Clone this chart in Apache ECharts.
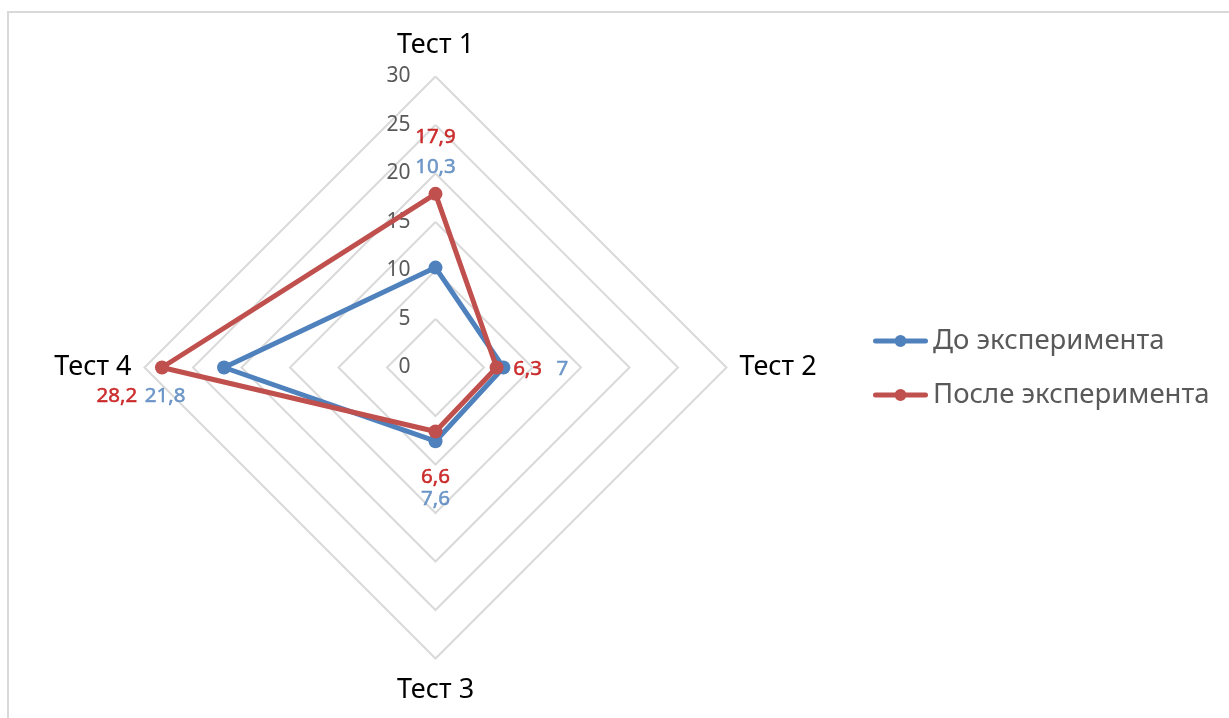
<!DOCTYPE html>
<html>
<head>
<meta charset="utf-8">
<script src="https://cdn.jsdelivr.net/npm/echarts@6/dist/echarts.min.js"></script>
<style>
  html, body { margin: 0; padding: 0; width: 1229px; height: 718px; overflow: hidden; background: #ffffff; }
  #frame { position: absolute; left: 7px; top: 11px; width: 2000px; height: 2000px;
           border: 2px solid #d9d9d9; box-sizing: border-box; }
  #chart { position: absolute; left: 0; top: 0; width: 1229px; height: 718px; }
</style>
</head>
<body>
<div id="frame"></div>
<div id="chart"></div>
<script>
// Radar chart data: four tests, before and after the experiment
const categories = ['Тест 1', 'Тест 2', 'Тест 3', 'Тест 4'];
const seriesNames = ['До эксперимента', 'После эксперимента'];
const beforeValues = [10.3, 7, 7.6, 21.8];
const afterValues = [17.9, 6.3, 6.6, 28.2];
const axisMin = 0;
const axisMax = 30;
const axisStep = 5;

const FONT = '"Noto Sans", "DejaVu Sans", sans-serif';
const BLUE = '#4f81bd';
const RED = '#c0504d';
const BLUE_LABEL = '#4f81bd';
const RED_LABEL = '#c00000';

const CENTER = [435.5, 367.5];
const RADIUS = 291;

// Pixel offsets of each value label from its marker
const beforeLabelOffsets = [[0, -100], [59, 2], [0, 58], [-59, 29]];
const afterLabelOffsets = [[0, -57], [31, 2], [0, 46], [-45, 29]];

// ECharts places radar indicators counter-clockwise; the tests run clockwise
const order = [0, 3, 2, 1];
const indicators = order.map(function (i) {
  const ind = { name: categories[i], min: axisMin, max: axisMax };
  if (i === 0) ind.axisLabel = { show: true };
  return ind;
});
const reorder = function (arr) { return order.map(function (i) { return arr[i]; }); };

const fmt = function (v) { return String(v).replace('.', ','); };

// Value labels sit on a hidden polar system that overlaps the radar exactly
function labelSeries(values, offsets, color, name) {
  return {
    type: 'scatter',
    name: name + ' labels',
    coordinateSystem: 'polar',
    symbolSize: 0,
    silent: true,
    z: 5,
    data: values.map(function (v, i) {
      return {
        value: [v, i * 90],
        label: {
          show: true,
          position: 'inside',
          offset: offsets[i],
          formatter: fmt(v),
          color: color,
          textBorderWidth: 0.5,
          textBorderColor: color,
          fontFamily: FONT,
          fontSize: 20.5
        }
      };
    })
  };
}

const legendIcon = 'path://M2.5,3.5 L52.5,3.5 A2.5,2.5 0 0 1 52.5,8.5 L2.5,8.5 A2.5,2.5 0 0 1 2.5,3.5 Z ' +
                   'M33.5,6 A6,6 0 0 1 21.5,6 A6,6 0 0 1 33.5,6 Z';

const chart = echarts.init(document.getElementById('chart'), null, { renderer: 'canvas' });
chart.setOption({
  animation: false,
  backgroundColor: 'transparent',
  textStyle: { fontFamily: FONT },
  legend: {
    orient: 'vertical',
    left: 873,
    top: 326,
    padding: 0,
    itemWidth: 55,
    itemHeight: 12,
    itemGap: 24,
    icon: legendIcon,
    data: seriesNames,
    textStyle: { color: '#595959', fontFamily: FONT, fontSize: 27.5, lineHeight: 30 },
    itemStyle: { borderWidth: 0 }
  },
  radar: {
    center: CENTER,
    radius: RADIUS,
    startAngle: 90,
    shape: 'polygon',
    splitNumber: (axisMax - axisMin) / axisStep,
    indicator: indicators,
    axisName: { color: '#000000', fontFamily: FONT, fontSize: 27, padding: [5, 0, 5, 0] },
    nameGap: 13,
    axisLine: { show: false },
    axisTick: { show: false },
    axisLabel: { show: false, color: '#595959', fontFamily: FONT, fontSize: 21, margin: 25 },
    splitLine: { lineStyle: { color: '#d9d9d9', width: 2 } },
    splitArea: { show: false }
  },
  polar: { center: CENTER, radius: RADIUS },
  angleAxis: { type: 'value', min: 0, max: 360, startAngle: 90, clockwise: true, show: false },
  radiusAxis: { type: 'value', min: axisMin, max: axisMax, show: false },
  series: [
    {
      type: 'radar',
      symbol: 'circle',
      symbolSize: 14,
      z: 3,
      data: [
        {
          name: seriesNames[0],
          value: reorder(beforeValues),
          itemStyle: { color: BLUE },
          lineStyle: { color: BLUE, width: 5, join: 'round' }
        },
        {
          name: seriesNames[1],
          value: reorder(afterValues),
          itemStyle: { color: RED },
          lineStyle: { color: RED, width: 5, join: 'round' }
        }
      ]
    },
    labelSeries(beforeValues, beforeLabelOffsets, BLUE_LABEL, seriesNames[0]),
    labelSeries(afterValues, afterLabelOffsets, RED_LABEL, seriesNames[1])
  ]
});
</script>
</body>
</html>
